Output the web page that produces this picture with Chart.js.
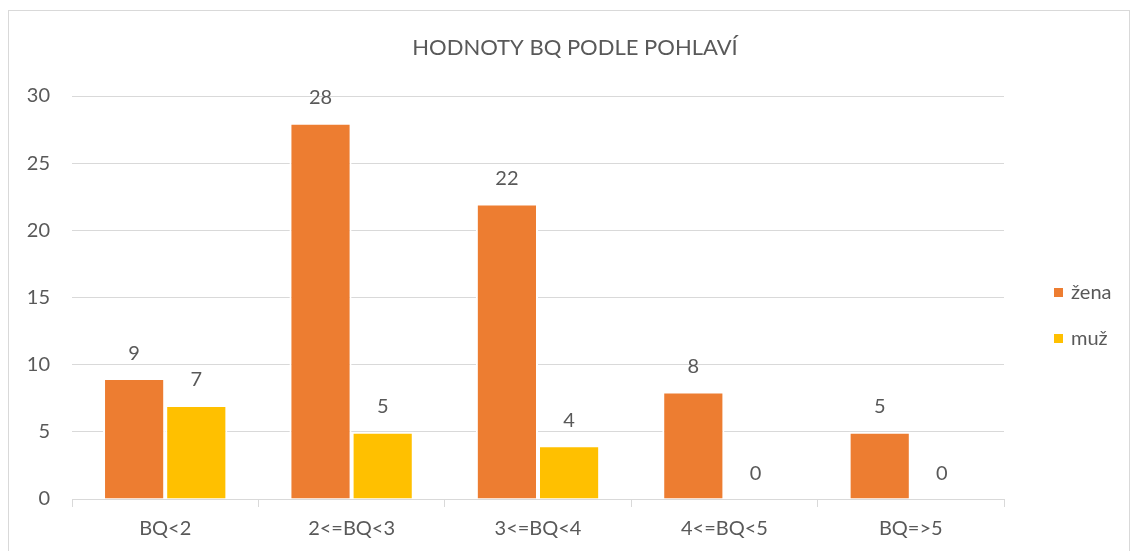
<!DOCTYPE html>
<html>
<head>
<meta charset="utf-8">
<script src="https://cdn.jsdelivr.net/npm/chart.js@4.4.1/dist/chart.umd.min.js"></script>
<style>
    html, body { margin: 0; padding: 0; background: #fff; }
    #box {
        position: absolute; left: 8px; top: 10px;
        width: 1120px; height: 560px;
        border: 1px solid #d9d9d9; border-bottom: none;
    }
    #box canvas { display: block; }
</style>
</head>
<body>
<div id="box"><canvas id="myChart" width="1120" height="540"></canvas></div>
<script>
const categories = ['BQ<2', '2<=BQ<3', '3<=BQ<4', '4<=BQ<5', 'BQ=>5'];
const zenaValues = [9, 28, 22, 8, 5];
const muzValues = [7, 5, 4, 0, 0];
const yTicks = [0, 5, 10, 15, 20, 25, 30];
const chartTitle = 'HODNOTY BQ PODLE POHLAVÍ';

const textColor = '#595959';
const fontFamily = 'Lato, "Open Sans", sans-serif';

// nadpis grafu (centrovany na celou sirku platna)
const topTitle = {
    id: 'topTitle',
    afterDraw(chart) {
        const ctx = chart.ctx;
        ctx.save();
        ctx.font = '22px ' + fontFamily;
        ctx.fillStyle = textColor;
        ctx.textAlign = 'center';
        ctx.textBaseline = 'middle';
        ctx.fillText(chartTitle, chart.width / 2 + 6, 37);
        ctx.restore();
    }
};

// popisky hodnot nad sloupci
const valueLabels = {
    id: 'valueLabels',
    afterDatasetsDraw(chart) {
        const ctx = chart.ctx;
        ctx.save();
        ctx.font = '20px ' + fontFamily;
        ctx.fillStyle = textColor;
        ctx.textAlign = 'center';
        ctx.textBaseline = 'middle';
        chart.data.datasets.forEach((ds, i) => {
            chart.getDatasetMeta(i).data.forEach((bar, j) => {
                ctx.fillText(String(ds.data[j]), bar.x, bar.y - 25);
            });
        });
        ctx.restore();
    }
};

// legenda vpravo
const sideLegend = {
    id: 'sideLegend',
    afterDraw(chart) {
        const ctx = chart.ctx;
        const area = chart.chartArea;
        const midY = (area.top + area.bottom) / 2;
        ctx.save();
        ctx.font = '20px ' + fontFamily;
        ctx.textBaseline = 'middle';
        chart.data.datasets.forEach((ds, i) => {
            const y = midY - 5 + i * 46;
            const x = area.right + 50;
            ctx.fillStyle = ds.backgroundColor;
            ctx.fillRect(x, y - 4.5, 9, 9);
            ctx.fillStyle = textColor;
            ctx.fillText(ds.label, x + 17, y);
        });
        ctx.restore();
    }
};

const ctx = document.getElementById('myChart').getContext('2d');
const myChart = new Chart(ctx, {
    type: 'bar',
    data: {
        labels: categories,
        datasets: [
            {
                label: 'žena',
                data: zenaValues,
                backgroundColor: '#ED7D31',
                borderColor: '#ffffff',
                borderWidth: 2,
                borderSkipped: 'bottom'
            },
            {
                label: 'muž',
                data: muzValues,
                backgroundColor: '#FFC000',
                borderColor: '#ffffff',
                borderWidth: 2,
                borderSkipped: 'bottom'
            }
        ]
    },
    options: {
        responsive: false,
        animation: false,
        categoryPercentage: 0.667,
        barPercentage: 1,
        layout: { padding: { left: 0, right: 125, top: 85, bottom: 0 } },
        plugins: {
            legend: { display: false },
            tooltip: { enabled: false },
            title: { display: false }
        },
        scales: {
            x: {
                offset: true,
                grid: {
                    display: true,
                    offset: true,
                    drawOnChartArea: false,
                    drawTicks: true,
                    tickLength: 8,
                    color: '#d9d9d9',
                    lineWidth: 1
                },
                border: { display: true, color: '#d9d9d9', width: 1 },
                ticks: {
                    color: textColor,
                    padding: 10,
                    font: { family: fontFamily, size: 20 }
                }
            },
            y: {
                min: 0,
                max: 30,
                afterBuildTicks(axis) {
                    axis.ticks = yTicks.map(v => ({ value: v }));
                },
                afterFit(axis) {
                    axis.width = 63;
                },
                grid: {
                    color: '#d9d9d9',
                    lineWidth: 1,
                    drawTicks: false
                },
                border: { display: false },
                ticks: {
                    color: textColor,
                    padding: 22,
                    font: { family: fontFamily, size: 20 }
                }
            }
        }
    },
    plugins: [valueLabels, sideLegend, topTitle]
});
</script>
</body>
</html>
